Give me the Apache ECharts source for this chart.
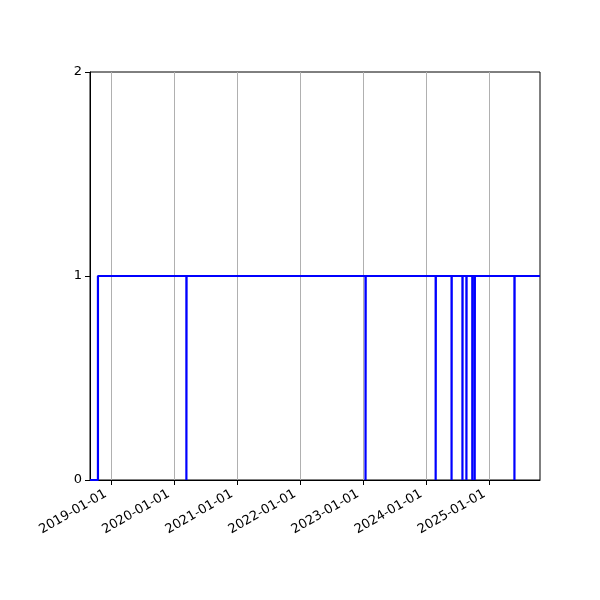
<!DOCTYPE html>
<html><head><meta charset="utf-8">
<script src="https://cdn.jsdelivr.net/npm/echarts@6/dist/echarts.min.js"></script>
<style>html,body{margin:0;padding:0;background:#fff}#c{width:600px;height:600px}</style>
</head><body><div id="c"></div>
<script>
// change points of the step series (value held until the next date)
const changeDates = [
  '2018-09-02','2018-10-18',
  '2020-03-13','2020-03-14',
  '2023-01-14','2023-01-15',
  '2024-02-24','2024-02-25',
  '2024-05-26','2024-05-27',
  '2024-07-28','2024-07-29',
  '2024-08-20','2024-08-21',
  '2024-09-23','2024-09-24',
  '2024-10-07','2024-10-08',
  '2025-05-25','2025-05-26',
  '2025-10-20'
];
const changeValues = [
  0,1,
  0,1,
  0,1,
  0,1,
  0,1,
  0,1,
  0,1,
  0,1,
  0,1,
  0,1,
  1
];
const xTickLabels = ['2019-01-01','2020-01-01','2021-01-01','2022-01-01','2023-01-01','2024-01-01','2025-01-01'];
const xRange = ['2018-09-02','2025-10-20'];
const yTicks = [0,1,2];

const ts = s => Date.parse(s + 'T00:00:00Z');
const seriesData = changeDates.map((d,i) => [ts(d), changeValues[i]]);
const tickTs = xTickLabels.map(ts);
const font = 'DejaVu Sans';

const chart = echarts.init(document.getElementById('c'), null, {renderer:'canvas'});
chart.setOption({
  animation: false,
  backgroundColor: '#fff',
  grid: {left: 90, right: 60, top: 72, bottom: 120, show: true, borderColor: '#000', borderWidth: 1, backgroundColor: 'transparent'},
  xAxis: {
    type: 'value',
    min: ts(xRange[0]), max: ts(xRange[1]),
    axisLine: {show: true, lineStyle: {color: '#000', width: 1}},
    axisTick: {show: true, length: 5, lineStyle: {color: '#000'}, customValues: tickTs},
    axisLabel: {
      customValues: tickTs, rotate: 30, margin: 10, padding: [0, 6, 0, 0], color: '#000', fontFamily: font, fontSize: 13,
      formatter: v => new Date(v).toISOString().slice(0,10)
    },
    splitLine: {show: true, lineStyle: {color: '#b0b0b0', width: 1}}
  },
  yAxis: {
    type: 'value', min: yTicks[0], max: yTicks[yTicks.length-1], interval: 1,
    axisLine: {show: true, lineStyle: {color: '#000', width: 1}},
    axisTick: {show: true, length: 5, lineStyle: {color: '#000'}},
    axisLabel: {color: '#000', fontFamily: font, fontSize: 13, margin: 8},
    splitLine: {show: false}
  },
  series: [{
    type: 'line', step: 'end', data: seriesData, showSymbol: false,
    lineStyle: {color: '#0000ff', width: 2.2}, z: 3
  }]
});
</script></body></html>
